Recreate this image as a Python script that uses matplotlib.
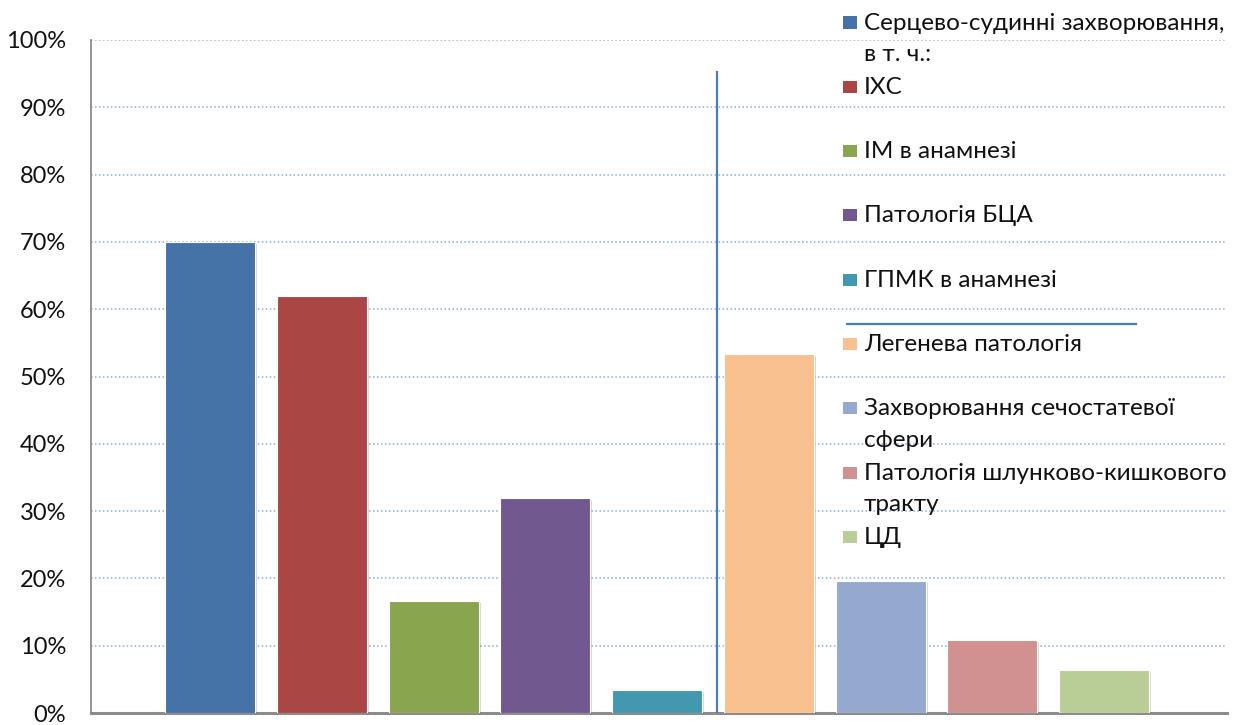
import matplotlib
matplotlib.use("Agg")
import matplotlib.pyplot as plt
from matplotlib.ticker import PercentFormatter, MultipleLocator
from matplotlib.patches import Rectangle
from matplotlib.lines import Line2D
import matplotlib.patheffects as pe

plt.rcParams['font.family'] = ['Lato', 'DejaVu Sans']

# Share of patients with each comorbidity, %
categories = [
    "Серцево-судинні захворювання,\nв т. ч.:",
    "ІХС",
    "ІМ в анамнезі",
    "Патологія БЦА",
    "ГПМК в анамнезі",
    "Легенева патологія",
    "Захворювання сечостатевої\nсфери",
    "Патологія шлунково-кишкового\nтракту",
    "ЦД",
]
values = [70.0, 62.0, 16.7, 32.0, 3.4, 53.4, 19.6, 10.8, 6.4]
colors = ["#4572a7", "#aa4643", "#89a54e", "#71588f", "#4198af",
          "#f9c090", "#95a9cf", "#d19190", "#b9cd96"]

W, H = 1243, 725
fig = plt.figure(figsize=(W / 100, H / 100), dpi=100)
ax = fig.add_axes([91 / W, 12 / H, (1227 - 91) / W, (713 - 40) / H])

x = list(range(len(values)))
shadow = [pe.SimplePatchShadow(offset=(1.5, -1.5), shadow_rgbFace="#000000", alpha=0.16),
          pe.Normal()]
bars = ax.bar(x, values, width=0.805, color=colors, edgecolor="white",
              linewidth=0.8, zorder=3)
for b in bars:
    b.set_path_effects(shadow)

ax.set_xlim(-1.065, 9.1)
ax.set_ylim(0, 100)
ax.yaxis.set_major_locator(MultipleLocator(10))
ax.yaxis.set_major_formatter(PercentFormatter(decimals=0))
ax.set_xticks([])
ax.tick_params(axis="y", length=0, pad=18, labelsize=17, labelcolor="#111111")

ax.grid(axis="y", color="#8eaad6", linestyle=(0, (1, 1.6)), linewidth=1.1, zorder=0)
for s in ["top", "right"]:
    ax.spines[s].set_visible(False)
ax.spines["left"].set_color("#8c8c8c")
ax.spines["left"].set_linewidth(1.3)
ax.spines["bottom"].set_color("#8c8c8c")
ax.spines["bottom"].set_linewidth(2.2)

# separator between the cardiovascular group and other conditions
ax.plot([4.54, 4.54], [0, 95.2], color="#4a7ebb", linewidth=1.6, zorder=4)

# legend column: one entry per category, multi-line labels drawn line by line
sq_w, sq_h = 14, 12
lx, tx = 843, 864
base0 = 29.5
pitch = 64.3
line_gap = 31.5
for i, (lab, c) in enumerate(zip(categories, colors)):
    base = base0 + i * pitch
    fig.patches.append(Rectangle((lx / W, 1 - (base - 1) / H), sq_w / W, sq_h / H,
                                 transform=fig.transFigure, facecolor=c,
                                 edgecolor="none", zorder=5))
    for k, line in enumerate(lab.split("\n")):
        fig.text(tx / W, 1 - (base + k * line_gap) / H, line, ha="left",
                 va="baseline", fontsize=17.5, color="#111111", zorder=6)

fig.add_artist(Line2D([847 / W, 1136 / W], [1 - 324 / H, 1 - 324 / H],
                      transform=fig.transFigure, color="#4a7ebb", linewidth=1.6))

fig.savefig("out.png", dpi=100)
